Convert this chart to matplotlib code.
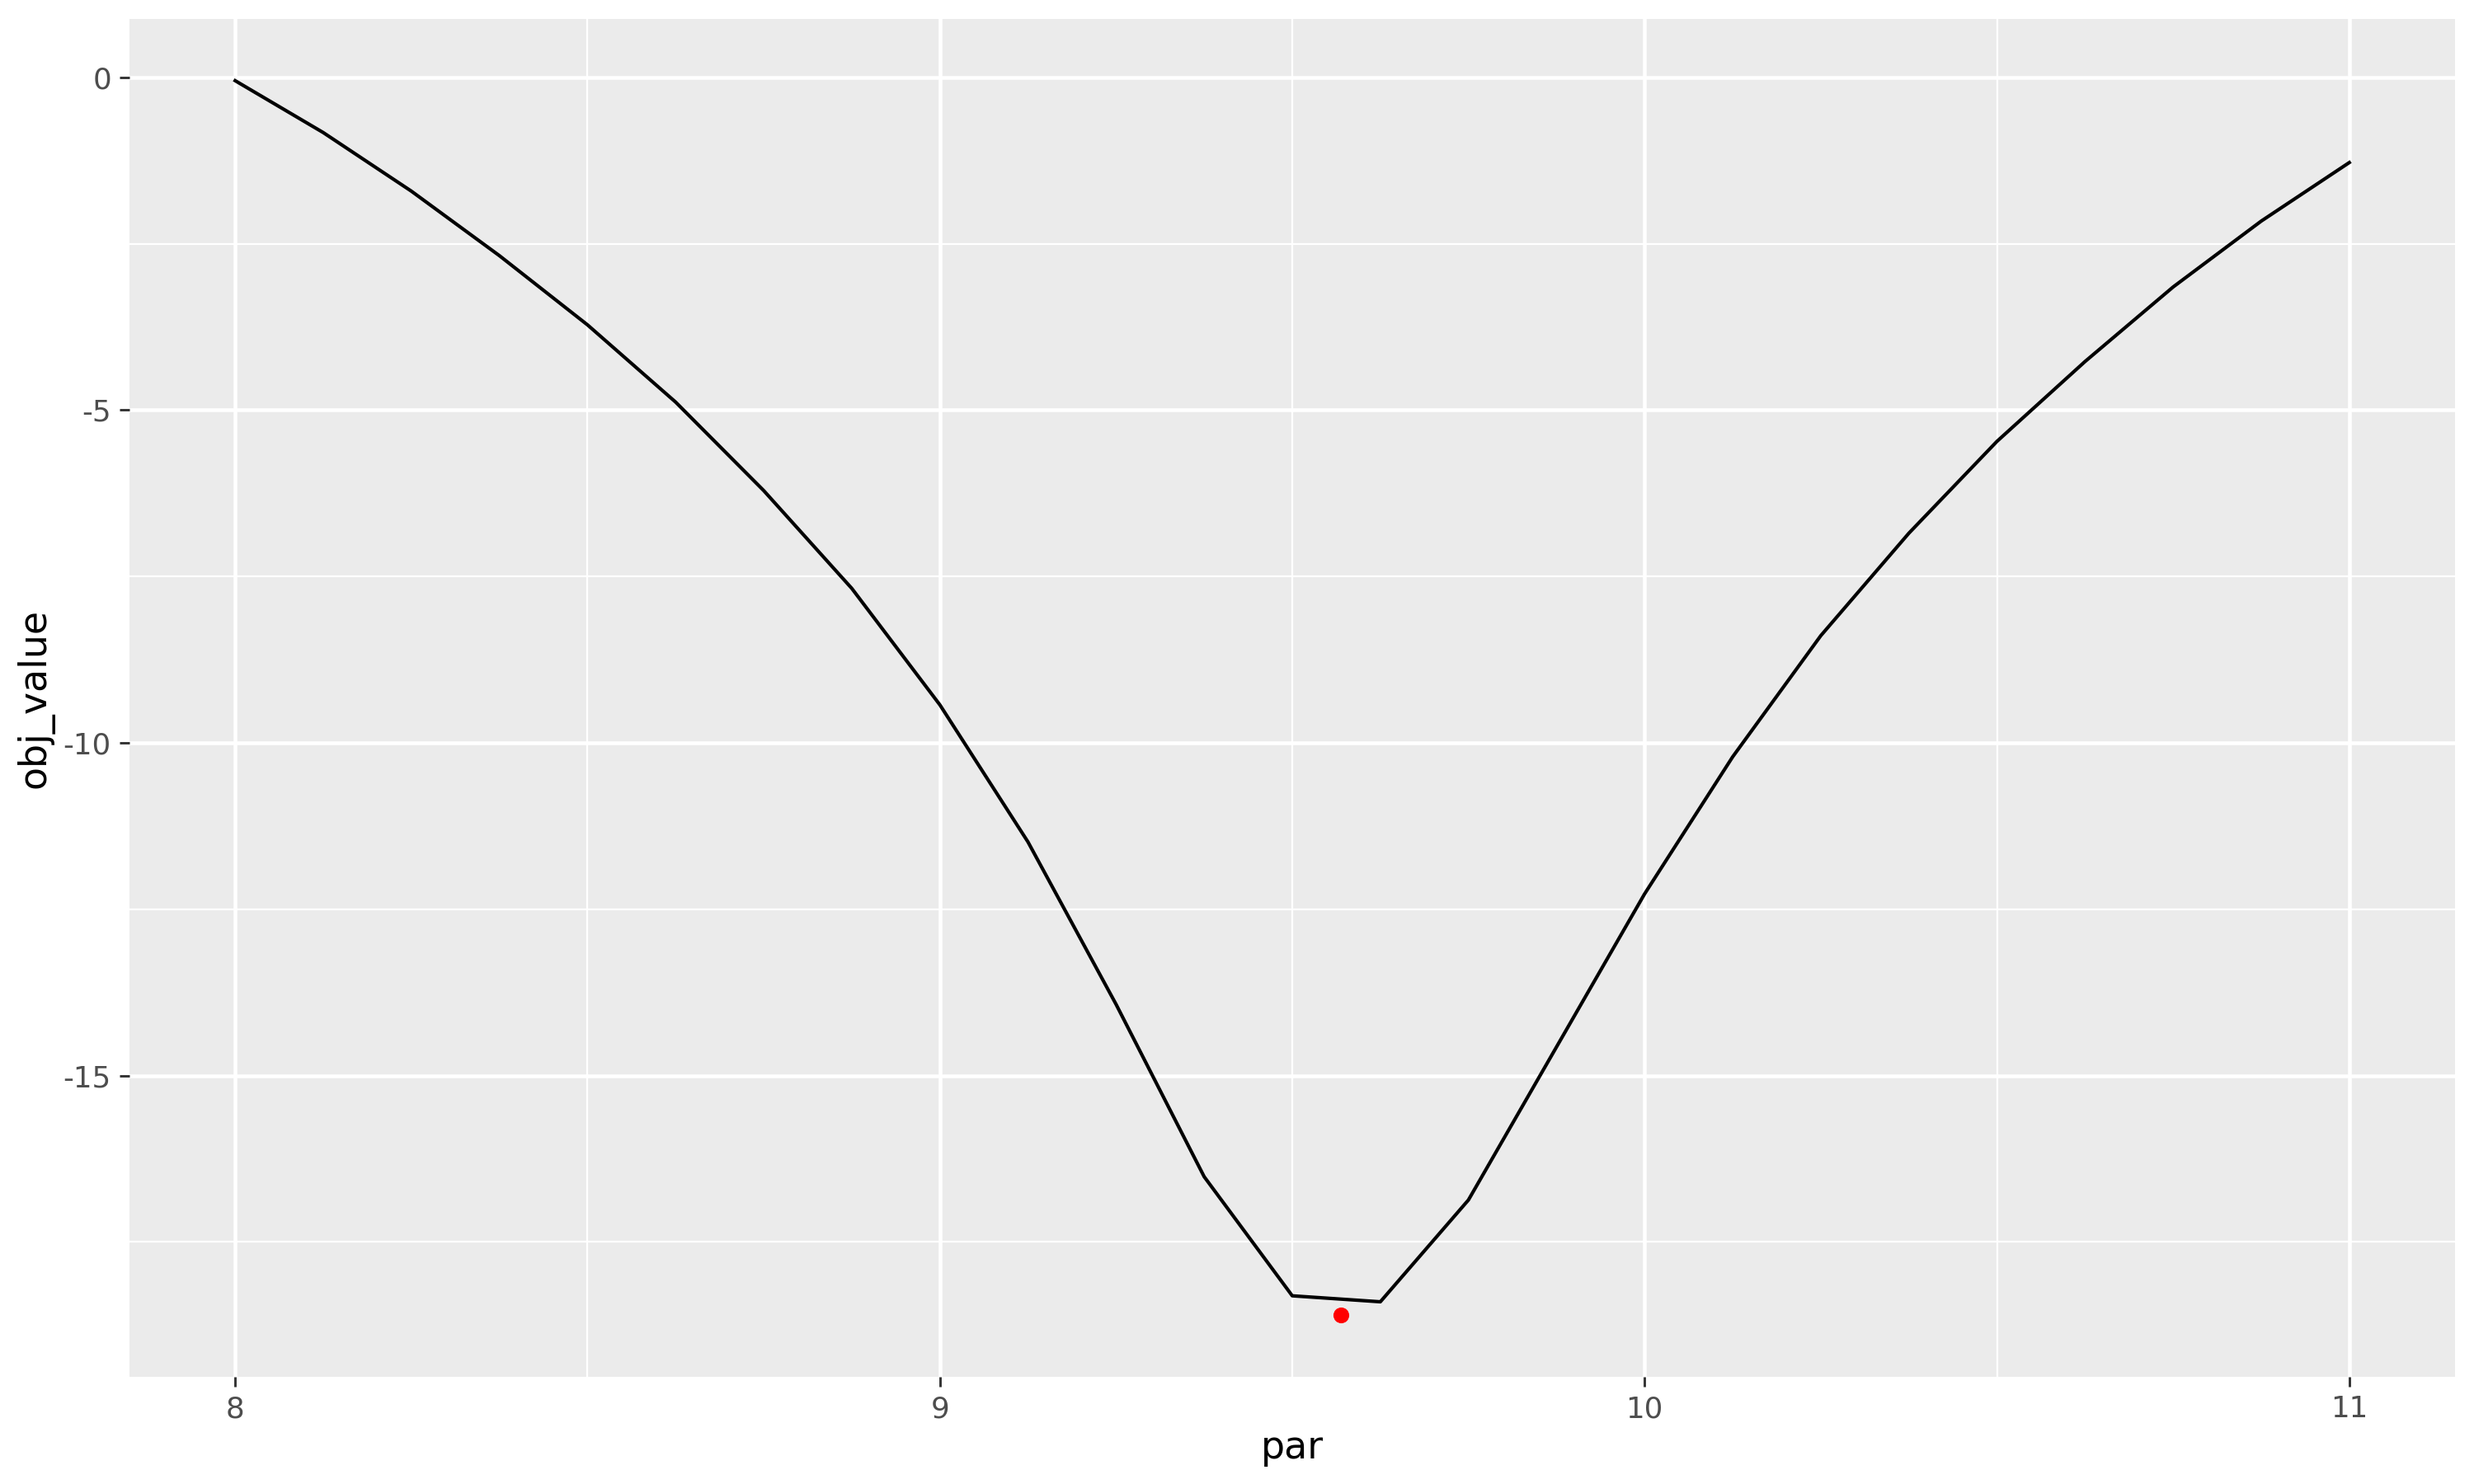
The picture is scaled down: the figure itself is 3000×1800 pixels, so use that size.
import matplotlib
matplotlib.use("Agg")
import matplotlib.pyplot as plt
import numpy as np

par = [8.0, 8.125, 8.25, 8.375, 8.5, 8.625, 8.75, 8.875, 9.0, 9.125, 9.25, 9.375,
       9.5, 9.625, 9.75, 9.875, 10.0, 10.125, 10.25, 10.375, 10.5, 10.625, 10.75, 10.875, 11.0]
obj_value = [-0.05, -0.83, -1.71, -2.68, -3.72, -4.88, -6.21, -7.68, -9.43, -11.49, -13.93, -16.52,
             -18.31, -18.40, -16.87, -14.57, -12.27, -10.21, -8.39, -6.85, -5.47, -4.27, -3.15, -2.16, -1.28]
opt_par = [9.569]
opt_value = [-18.60]

x_ticks = [8, 9, 10, 11]
x_minor = [8.5, 9.5, 10.5]
y_ticks = [0, -5, -10, -15]
y_minor = [-2.5, -7.5, -12.5, -17.5]

plt.rcParams['font.family'] = ['DejaVu Sans']
fig = plt.figure(figsize=(10, 6), dpi=300)
ax = fig.add_axes([157 / 3000, 130 / 1800, 2820 / 3000, 1647 / 1800])
ax.set_facecolor('#EBEBEB')
for s in ax.spines.values():
    s.set_visible(False)

allx = par + opt_par
ally = obj_value + opt_value
xr = max(allx) - min(allx)
yr = max(ally) - min(ally)
ax.set_xlim(min(allx) - 0.05 * xr, max(allx) + 0.05 * xr)
ax.set_ylim(min(ally) - 0.05 * yr, max(ally) + 0.05 * yr)

for v in x_minor:
    ax.axvline(v, color='white', lw=0.55, zorder=0.5)
for v in y_minor:
    ax.axhline(v, color='white', lw=0.55, zorder=0.5)
for v in x_ticks:
    ax.axvline(v, color='white', lw=1.1, zorder=0.6)
for v in y_ticks:
    ax.axhline(v, color='white', lw=1.1, zorder=0.6)

ax.plot(par, obj_value, color='black', lw=1.0, zorder=2)
ax.plot(opt_par, opt_value, 'o', color='red', markersize=4.6, markeredgewidth=0, zorder=3)

ax.set_xticks(x_ticks)
ax.set_xticklabels([str(v) for v in x_ticks])
ax.set_yticks(y_ticks)
ax.set_yticklabels([str(v) for v in y_ticks])
ax.tick_params(axis='both', length=2.8, width=0.7, color='#333333', labelcolor='#4D4D4D',
               labelsize=8.6, pad=2.5)
ax.set_xlabel('par', fontsize=11, color='black', labelpad=2)
ax.set_ylabel('obj_value', fontsize=11, color='black', labelpad=2.75)

fig.savefig('out.png', dpi=300)
